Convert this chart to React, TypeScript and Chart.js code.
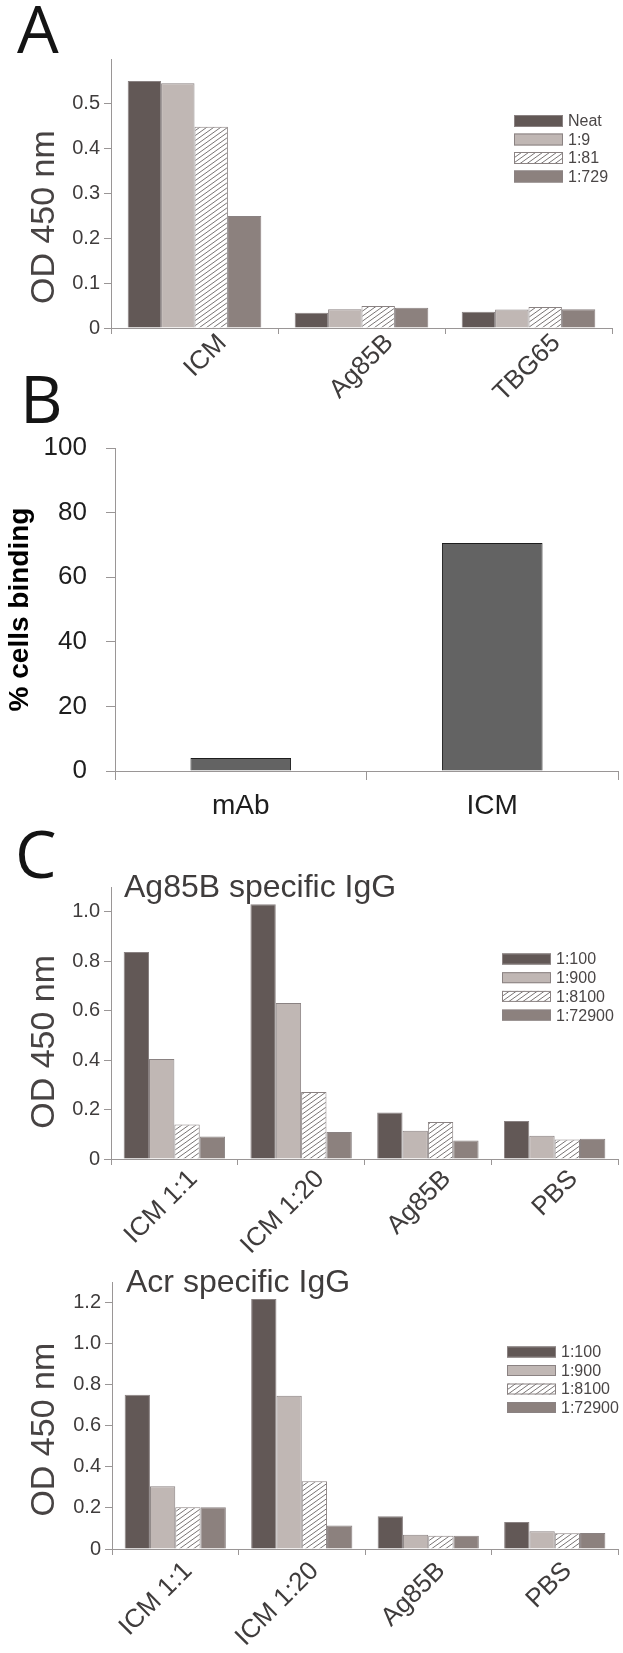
import React, { useEffect, useRef } from 'react';
import { Chart, registerables } from 'chart.js';

Chart.register(...registerables);

// ---------- DATA ----------
const panelACategories = ['ICM', 'Ag85B', 'TBG65'];
const panelASeries = ['Neat', '1:9', '1:81', '1:729'];
const panelANeat = [0.551, 0.034, 0.036];
const panelA1to9 = [0.546, 0.042, 0.041];
const panelA1to81 = [0.449, 0.049, 0.047];
const panelA1to729 = [0.25, 0.045, 0.042];
const panelATicks = [0, 0.1, 0.2, 0.3, 0.4, 0.5];

const panelBCategories = ['mAb', 'ICM'];
const panelBValues = [4.0, 70.6];
const panelBTicks = [0, 20, 40, 60, 80, 100];

const panelCCategories = ['ICM 1:1', 'ICM 1:20', 'Ag85B', 'PBS'];
const panelCSeries = ['1:100', '1:900', '1:8100', '1:72900'];
const ag85b1to100 = [0.837, 1.03, 0.188, 0.154];
const ag85b1to900 = [0.404, 0.631, 0.114, 0.094];
const ag85b1to8100 = [0.14, 0.271, 0.15, 0.079];
const ag85b1to72900 = [0.091, 0.109, 0.075, 0.082];
const panelC1Ticks = [0, 0.2, 0.4, 0.6, 0.8, 1.0];
const acr1to100 = [0.751, 1.217, 0.159, 0.132];
const acr1to900 = [0.306, 0.746, 0.069, 0.087];
const acr1to8100 = [0.203, 0.33, 0.064, 0.077];
const acr1to72900 = [0.203, 0.114, 0.065, 0.078];
const panelC2Ticks = [0, 0.2, 0.4, 0.6, 0.8, 1.0, 1.2];

const odTitle = 'OD 450 nm';
const panelBTitle = '% cells binding';
const panelC1Title = 'Ag85B specific IgG';
const panelC2Title = 'Acr specific IgG';

// ---------- STYLE ----------
const FONT = '"Liberation Sans", Arial, Helvetica, sans-serif';
const LETTER_FONT = '"Open Sans", "Noto Sans", sans-serif';
const TEXT = '#3f3c3c';
const AXIS = '#9a9696';
const C_DARK = '#625856';
const C_LIGHT = '#c0b7b4';
const C_MID = '#8c817e';
const BORDER = '#8a8282';

Chart.defaults.font.family = FONT;
Chart.defaults.color = TEXT;

function makeHatch(): CanvasPattern | string {
  const w = 7;
  const h = 5;
  const c = document.createElement('canvas');
  c.width = w;
  c.height = h;
  const ctx = c.getContext('2d');
  if (!ctx) return '#ddd';
  ctx.fillStyle = '#ffffff';
  ctx.fillRect(0, 0, w, h);
  ctx.strokeStyle = '#6a6464';
  ctx.lineWidth = 0.9;
  for (let k = -1; k <= 1; k++) {
    ctx.beginPath();
    ctx.moveTo(-1, h + h / w + k * h);
    ctx.lineTo(w + 1, h - (h / w) * (w + 1) + k * h);
    ctx.stroke();
  }
  return ctx.createPattern(c, 'repeat') || '#ddd';
}

const overlayPlugin = {
  id: 'overlay',
  afterDraw(chart: any, _args: any, opts: any) {
    const ctx = chart.ctx as CanvasRenderingContext2D;
    const ca = chart.chartArea;
    ctx.save();
    if (opts.letter) {
      ctx.font = `400 ${opts.letterSize}px ${LETTER_FONT}`;
      ctx.fillStyle = '#141414';
      ctx.textAlign = 'left';
      ctx.textBaseline = 'alphabetic';
      ctx.fillText(opts.letter, opts.letterX, opts.letterY);
    }
    if (opts.title) {
      ctx.font = `400 ${opts.titleSize}px ${FONT}`;
      ctx.fillStyle = TEXT;
      ctx.textAlign = 'left';
      ctx.textBaseline = 'alphabetic';
      ctx.fillText(opts.title, ca.left + opts.titleDx, ca.top + opts.titleDy);
    }
    if (opts.legendShow) {
      const bw = opts.boxW;
      const bh = opts.boxH;
      chart.data.datasets.forEach((ds: any, i: number) => {
        const cy = ca.top + opts.legendTop + i * opts.legendGap;
        const x = ca.right - opts.legendFromRight;
        ctx.fillStyle = ds.backgroundColor;
        ctx.fillRect(x, cy - bh / 2, bw, bh);
        ctx.strokeStyle = BORDER;
        ctx.lineWidth = 1;
        ctx.strokeRect(x + 0.5, cy - bh / 2 + 0.5, bw - 1, bh - 1);
        ctx.font = `400 ${opts.legendSize}px ${FONT}`;
        ctx.fillStyle = '#4a4646';
        ctx.textAlign = 'left';
        ctx.textBaseline = 'middle';
        ctx.fillText(ds.label, x + bw + 5, cy + 1);
      });
    }
    ctx.restore();
  },
};

function groupedDatasets(series: string[], values: number[][], hatch: CanvasPattern | string) {
  const fills = [C_DARK, C_LIGHT, hatch, C_MID];
  return series.map((s, i) => ({
    label: s,
    data: values[i],
    backgroundColor: fills[i],
    borderColor: BORDER,
    borderWidth: 1,
    categoryPercentage: 0.8,
    barPercentage: 1.0,
  }));
}

function odConfig(p: {
  labels: string[];
  series: string[];
  values: number[][];
  max: number;
  tickValues: number[];
  padTop: number;
  padRight: number;
  yWidth: number;
  xHeight: number;
  titleSpaces: string;
  labelOffset: number;
  labelPad: number;
  overlay: any;
}): any {
  const hatch = makeHatch();
  return {
    type: 'bar',
    data: { labels: p.labels, datasets: groupedDatasets(p.series, p.values, hatch) },
    options: {
      responsive: false,
      animation: false,
      devicePixelRatio: 1,
      layout: { padding: { top: p.padTop, right: p.padRight, left: 0, bottom: 0 } },
      plugins: {
        legend: { display: false },
        tooltip: { enabled: false },
        overlay: p.overlay,
      },
      scales: {
        x: {
          afterFit: (s: any) => {
            s.height = p.xHeight;
          },
          ticks: {
            font: { family: FONT, size: 26 },
            color: TEXT,
            minRotation: 45,
            maxRotation: 45,
            autoSkip: false,
            padding: p.labelPad,
            labelOffset: p.labelOffset,
          },
          grid: { drawOnChartArea: false, drawTicks: true, tickLength: 6, color: AXIS, offset: true },
          border: { color: AXIS, width: 1 },
        },
        y: {
          min: 0,
          max: p.max,
          afterFit: (s: any) => {
            s.width = p.yWidth;
          },
          afterBuildTicks: (s: any) => {
            s.ticks = p.tickValues.map((v) => ({ value: v }));
          },
          ticks: {
            font: { family: FONT, size: 20 },
            color: TEXT,
            padding: 4,
            callback: (v: any) => (Number(v) === 0 ? '0' : Number(v).toFixed(1)),
          },
          grid: { drawOnChartArea: false, drawTicks: true, tickLength: 7, color: AXIS },
          border: { color: AXIS, width: 1 },
          title: {
            display: true,
            text: odTitle + p.titleSpaces,
            font: { family: FONT, size: 34 },
            color: '#474343',
            padding: { top: 24, bottom: 0 },
          },
        },
      },
    },
    plugins: [overlayPlugin],
  };
}

function configA(): any {
  return odConfig({
    labels: panelACategories,
    series: panelASeries,
    values: [panelANeat, panelA1to9, panelA1to81, panelA1to729],
    max: 0.6,
    tickValues: panelATicks,
    padTop: 59,
    padRight: 11,
    yWidth: 111,
    xHeight: 92,
    titleSpaces: '     ',
    labelOffset: 28,
    labelPad: -6,
    overlay: {
      letter: 'A',
      letterSize: 66,
      letterX: 17,
      letterY: 53,
      legendShow: true,
      boxW: 49,
      boxH: 12,
      legendTop: 62,
      legendGap: 18.5,
      legendFromRight: 98,
      legendSize: 16,
    },
  });
}

function configC1(): any {
  return odConfig({
    labels: panelCCategories,
    series: panelCSeries,
    values: [ag85b1to100, ag85b1to900, ag85b1to8100, ag85b1to72900],
    max: 1.1,
    tickValues: panelC1Ticks,
    padTop: 57,
    padRight: 5,
    yWidth: 111,
    xHeight: 103,
    titleSpaces: '    ',
    labelOffset: 19,
    labelPad: -1,
    overlay: {
      letter: 'C',
      letterSize: 66,
      letterX: 15,
      letterY: 48,
      title: panelC1Title,
      titleSize: 32,
      titleDx: 13,
      titleDy: 10,
      legendShow: true,
      boxW: 49,
      boxH: 11,
      legendTop: 72,
      legendGap: 18.7,
      legendFromRight: 116,
      legendSize: 16,
    },
  });
}

function configC2(): any {
  return odConfig({
    labels: panelCCategories,
    series: panelCSeries,
    values: [acr1to100, acr1to900, acr1to8100, acr1to72900],
    max: 1.3,
    tickValues: panelC2Ticks,
    padTop: 20,
    padRight: 5,
    yWidth: 112,
    xHeight: 104,
    titleSpaces: '   ',
    labelOffset: 13,
    labelPad: 1,
    overlay: {
      title: panelC2Title,
      titleSize: 32,
      titleDx: 14,
      titleDy: 10,
      legendShow: true,
      boxW: 49,
      boxH: 11,
      legendTop: 70,
      legendGap: 18.5,
      legendFromRight: 111,
      legendSize: 16,
    },
  });
}

function configB(): any {
  return {
    type: 'bar',
    data: {
      labels: panelBCategories,
      datasets: [
        {
          label: panelBTitle,
          data: panelBValues,
          backgroundColor: '#636363',
          borderColor: '#1e1e1e',
          borderWidth: 1,
          categoryPercentage: 0.4,
          barPercentage: 1.0,
        },
      ],
    },
    options: {
      responsive: false,
      animation: false,
      devicePixelRatio: 1,
      layout: { padding: { top: 78, right: 5, left: 0, bottom: 0 } },
      plugins: {
        legend: { display: false },
        tooltip: { enabled: false },
        overlay: { letter: 'B', letterSize: 66, letterX: 20, letterY: 53 },
      },
      scales: {
        x: {
          afterFit: (s: any) => {
            s.height = 59;
          },
          ticks: {
            font: { family: FONT, size: 28 },
            color: '#1e1e1e',
            minRotation: 0,
            maxRotation: 0,
            padding: 9,
          },
          grid: { drawOnChartArea: false, drawTicks: true, tickLength: 9, color: AXIS, offset: true },
          border: { color: AXIS, width: 1 },
        },
        y: {
          min: 0,
          max: 100,
          afterFit: (s: any) => {
            s.width = 115;
          },
          afterBuildTicks: (s: any) => {
            s.ticks = panelBTicks.map((v) => ({ value: v }));
          },
          ticks: {
            font: { family: FONT, size: 26 },
            color: '#1e1e1e',
            padding: 19,
          },
          grid: { drawOnChartArea: false, drawTicks: true, tickLength: 9, color: AXIS },
          border: { color: AXIS, width: 1 },
          title: {
            display: true,
            text: panelBTitle,
            font: { family: FONT, size: 28, weight: 'bold' },
            color: '#000000',
            padding: { top: 3, bottom: 0 },
          },
        },
      },
    },
    plugins: [overlayPlugin],
  };
}

function ChartPanel(props: { top: number; height: number; build: () => any }) {
  const ref = useRef<HTMLCanvasElement>(null);
  useEffect(() => {
    if (!ref.current) return;
    const chart = new Chart(ref.current, props.build());
    return () => chart.destroy();
  }, []);
  return (
    <canvas
      ref={ref}
      width={623}
      height={props.height}
      style={{ position: 'absolute', left: 0, top: props.top, width: 623, height: props.height }}
    />
  );
}

export default function App() {
  return (
    <div
      style={{
        position: 'absolute',
        left: 0,
        top: 0,
        width: 623,
        height: 1653,
        background: '#ffffff',
        overflow: 'hidden',
      }}
    >
      <ChartPanel top={0} height={420} build={configA} />
      <ChartPanel top={370} height={460} build={configB} />
      <ChartPanel top={830} height={432} build={configC1} />
      <ChartPanel top={1262} height={391} build={configC2} />
    </div>
  );
}
